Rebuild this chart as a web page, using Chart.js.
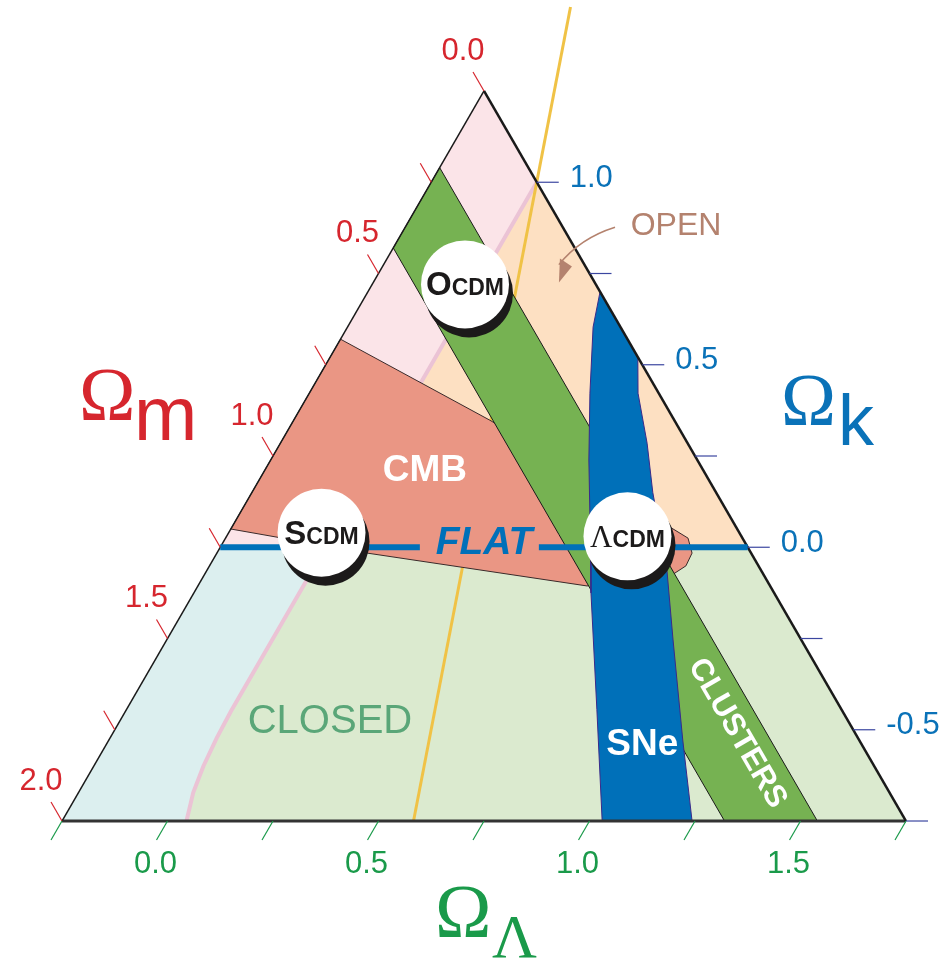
<!DOCTYPE html>
<html>
<head>
<meta charset="utf-8">
<script src="https://cdn.jsdelivr.net/npm/chart.js@4.4.0/dist/chart.umd.min.js"></script>
<style>
  html, body { margin: 0; padding: 0; background: #fff; }
  #wrap { width: 940px; height: 960px; }
</style>
</head>
<body>
<div id="wrap"><canvas id="cosmicTriangle" width="940" height="960"></canvas></div>
<script>
// Cosmic triangle: Omega_m + Omega_Lambda + Omega_k = 1
// every shape below is a list of (Omega_m, Omega_Lambda) pairs

// corners: apex, bottom-left, bottom-right
const cornerM = [0, 2, 0];
const cornerL = [-0.25, -0.25, 1.75];

// pink boundary curve (open / closed backgrounds split along it)
const edgeM = [0, 1, 1.45, 1.52, 1.59, 1.65, 1.705];
const edgeL = [0, 0, 0, 0.003, 0.01, 0.022, 0.045];

// yellow line: accelerating / decelerating
const accelM = [-0.32, 1.167];
const accelL = [-0.16, 0.583];

// CMB constraint
const cmbM = [0.68, 0.437, 0.149, 0.129, 0.14, 0.172, 0.214, 0.434, 0.91, 1.2];
const cmbL = [-0.25, 0.215, 0.804, 0.846, 0.876, 0.879, 0.86, 0.672, 0.106, -0.25];

// cluster band
const clusterM = [0.21, 0.43, 0.43, 0.21];
const clusterL = [-0.25, -0.25, 1.32, 1.54];

// supernovae
const sneM = [0, 0.065, 0.163, 0.257, 0.346, 0.434, 0.58, 0.72, 0.507, 0.418, 0.304, 0.223, 0.15, 0.096, 0.049, 0];
const sneL = [0.30, 0.332, 0.415, 0.504, 0.599, 0.691, 0.865, 1.03, 1.243, 1.11, 0.95, 0.84, 0.70, 0.619, 0.529, 0.479];

// flat line, split where the word FLAT sits
const flatLeftM = [1.25, 0.777];
const flatLeftL = [-0.25, 0.223];
const flatRightM = [0.495, 0];
const flatRightL = [0.505, 1];

// models
const modelFirst = ['O', 'S', 'Λ'];
const modelM = [0.31, 0.99, 0.27];
const modelL = [-0.03, -0.03, 0.70];

// arrow from OPEN into the open region
const arrowM = [-0.124, -0.026, 0.085];
const arrowL = [0.247, 0.179, 0.19];

// ticks
const mTicks = [0, 0.25, 0.5, 0.75, 1, 1.25, 1.5, 1.75, 2];
const kTicks = [1, 0.75, 0.5, 0.25, 0, -0.25, -0.5, -0.75];
const lTicks = [-0.25, 0, 0.25, 0.5, 0.75, 1, 1.25, 1.5, 1.75];
const mLabelVals = [0, 0.5, 1, 1.5, 2];
const mLabels = ['0.0', '0.5', '1.0', '1.5', '2.0'];
const kLabelVals = [1, 0.5, 0, -0.5];
const kLabels = ['1.0', '0.5', '0.0', '-0.5'];
const lLabelVals = [0, 0.5, 1, 1.5];
const lLabels = ['0.0', '0.5', '1.0', '1.5'];

const RED = '#d6262e';
const BLUE = '#0a72b8';
const GREEN = '#1a9a4a';
const SANS = '"Liberation Sans", Arial, sans-serif';
const SERIF = '"Liberation Serif", "Times New Roman", serif';

// (Omega_m, Omega_Lambda) -> chart coords: x = Omega_L - Omega_m, y = Omega_k
function pts(mArr, lArr) {
  return mArr.map((m, i) => ({ x: lArr[i] - m, y: 1 - m - lArr[i] }));
}

function area(label, mArr, lArr, color, order, border) {
  const data = pts(mArr, lArr);
  data.push(data[0]);
  return {
    label, data, order,
    fill: 'shape',
    backgroundColor: color,
    borderColor: border || 'rgba(0,0,0,0)',
    borderWidth: border ? 1 : 0,
    pointRadius: 0,
    tension: 0
  };
}

function line(label, mArr, lArr, color, width, order) {
  return {
    label, order,
    data: pts(mArr, lArr),
    fill: false,
    borderColor: color,
    borderWidth: width,
    pointRadius: 0,
    tension: 0,
    borderCapStyle: 'butt'
  };
}

// background pieces built from the corners and the pink curve
const lowEdgeM = edgeM.slice(2), lowEdgeL = edgeL.slice(2);
const pinkBg = area('pinkBg', [cornerM[0], 0, 1, 1.25], [cornerL[0], 0, 0, -0.25], '#fbe4e8', 30);
const peachBg = area('peachBg', [0, 0, 1], [0, 1, 0], '#fde0c2', 30);
const blueBg = area('blueBg', [1.25, 1].concat(lowEdgeM, [cornerM[1]]),
  [-0.25, 0].concat(lowEdgeL, [cornerL[1]]), '#dcefef', 30);
const greenBg = area('greenBg', [1, 0, cornerM[2]].concat(lowEdgeM.slice().reverse()),
  [0, 1, cornerL[2]].concat(lowEdgeL.slice().reverse()), '#dbeacf', 30);

const datasets = [
  pinkBg, peachBg, blueBg, greenBg,
  line('edge', edgeM, edgeL, '#ebc3d5', 4, 25),
  line('accel', accelM, accelL, '#f0c246', 3, 24),
  area('CMB', cmbM, cmbL, '#ea9684', 20, '#3a2a2a'),
  area('Clusters', clusterM, clusterL, '#76b252', 19, '#1a1a1a'),
  area('SNe', sneM, sneL, '#0070b9', 18, '#3a2a8a'),
  line('leftSide', [cornerM[0], cornerM[1]], [cornerL[0], cornerL[1]], '#1a1a1a', 1.5, 15),
  line('rightSide', [cornerM[0], cornerM[2]], [cornerL[0], cornerL[2]], '#1a1a1a', 2.5, 15),
  line('bottomSide', [cornerM[1], cornerM[2]], [cornerL[1], cornerL[2]], '#333333', 3, 15),
  line('flatL', flatLeftM, flatLeftL, '#0070b9', 6, 10),
  line('flatR', flatRightM, flatRightL, '#0070b9', 6, 10)
];

const decorations = {
  id: 'decorations',
  afterDatasetsDraw(chart) {
    const ctx = chart.ctx;
    const sx = chart.scales.x, sy = chart.scales.y;
    const P = (m, l) => [sx.getPixelForValue(l - m), sy.getPixelForValue(1 - m - l)];
    ctx.save();

    // left side: Omega_m
    ctx.strokeStyle = RED; ctx.lineWidth = 1.2;
    mTicks.forEach(m => {
      const [x, y] = P(m, cornerL[0]);
      ctx.beginPath(); ctx.moveTo(x, y); ctx.lineTo(x - 11, y - 19); ctx.stroke();
    });
    ctx.fillStyle = RED; ctx.font = '31px ' + SANS;
    ctx.textAlign = 'center'; ctx.textBaseline = 'middle';
    mLabelVals.forEach((m, i) => {
      const [x, y] = P(m, cornerL[0]);
      ctx.fillText(mLabels[i], x - 21, y - 40);
    });

    // right side: Omega_k
    ctx.strokeStyle = '#3b46a0'; ctx.lineWidth = 1.2;
    kTicks.forEach(k => {
      const [x, y] = P(0, 1 - k);
      ctx.beginPath(); ctx.moveTo(x, y); ctx.lineTo(x + 22, y); ctx.stroke();
    });
    ctx.fillStyle = BLUE; ctx.textAlign = 'left';
    kLabelVals.forEach((k, i) => {
      const [x, y] = P(0, 1 - k);
      ctx.fillText(kLabels[i], x + 33, y - 4);
    });

    // bottom: Omega_Lambda
    ctx.strokeStyle = GREEN; ctx.lineWidth = 1.2;
    lTicks.forEach(l => {
      const [x, y] = P(cornerL[2] - l, l);
      ctx.beginPath(); ctx.moveTo(x, y); ctx.lineTo(x - 11, y + 19); ctx.stroke();
    });
    ctx.fillStyle = GREEN; ctx.textAlign = 'center';
    lLabelVals.forEach((l, i) => {
      const [x, y] = P(cornerL[2] - l, l);
      ctx.fillText(lLabels[i], x - 12, y + 43);
    });

    // arrow
    const a = arrowM.map((m, i) => P(m, arrowL[i]));
    ctx.strokeStyle = '#b4826e'; ctx.fillStyle = '#b4826e'; ctx.lineWidth = 1.6;
    ctx.beginPath(); ctx.moveTo(a[0][0], a[0][1]);
    ctx.quadraticCurveTo(a[1][0], a[1][1], a[2][0], a[2][1] - 18);
    ctx.stroke();
    const tip = a[2];
    ctx.beginPath();
    ctx.moveTo(tip[0], tip[1]);
    ctx.lineTo(tip[0] + 1, tip[1] - 24);
    ctx.lineTo(tip[0] + 13, tip[1] - 16);
    ctx.closePath(); ctx.fill();

    // model circles
    modelFirst.forEach((first, i) => {
      const [cx, cy] = P(modelM[i], modelL[i]);
      ctx.fillStyle = '#1c1a1a';
      ctx.beginPath(); ctx.arc(cx + 4, cy + 9, 44, 0, Math.PI * 2); ctx.fill();
      ctx.fillStyle = '#ffffff';
      ctx.beginPath(); ctx.arc(cx, cy, 44, 0, Math.PI * 2); ctx.fill();
      const bigFont = first === 'Λ' ? '31px ' + SERIF : 'bold 33px ' + SANS;
      const smallFont = 'bold 23px ' + SANS;
      ctx.font = bigFont; const w1 = ctx.measureText(first).width;
      ctx.font = smallFont; const w2 = ctx.measureText('CDM').width;
      const x0 = cx - (w1 + w2) / 2;
      ctx.fillStyle = '#1c1a1a'; ctx.textAlign = 'left'; ctx.textBaseline = 'alphabetic';
      ctx.font = bigFont; ctx.fillText(first, x0, cy + 11);
      ctx.font = smallFont; ctx.fillText('CDM', x0 + w1, cy + 11);
    });

    // region labels
    ctx.textAlign = 'center'; ctx.textBaseline = 'middle';
    const put = (text, m, l, font, color, angle) => {
      const [x, y] = P(m, l);
      ctx.save(); ctx.translate(x, y); if (angle) ctx.rotate(angle);
      ctx.font = font; ctx.fillStyle = color; ctx.fillText(text, 0, 0);
      ctx.restore();
    };
    put('CMB', 0.66, 0.13, 'bold 37px ' + SANS, '#ffffff');
    put('FLAT', 0.62, 0.37, 'italic bold 39px ' + SANS, '#0070b9');
    put('OPEN', -0.27, 0.39, '32px ' + SANS, '#b4826e');
    put('CLOSED', 1.23, 0.25, '40px ' + SANS, '#5aa678');
    put('SNe', 0.52, 1.02, 'bold 37px ' + SANS, '#ffffff');
    put('CLUSTERS', 0.28, 1.23, 'bold 31px ' + SANS, '#ffffff', Math.PI / 3);

    // axis titles
    ctx.textAlign = 'left'; ctx.textBaseline = 'alphabetic';
    ctx.fillStyle = RED;
    ctx.font = '76px ' + SERIF; ctx.fillText('Ω', 79, 420);
    ctx.font = '76px ' + SANS; ctx.fillText('m', 134, 440);
    ctx.fillStyle = BLUE;
    ctx.font = '74px ' + SERIF; ctx.fillText('Ω', 781, 425);
    ctx.font = '72px ' + SANS; ctx.fillText('k', 838, 445);
    ctx.fillStyle = GREEN;
    ctx.font = '76px ' + SERIF; ctx.fillText('Ω', 435, 937);
    ctx.font = '62px ' + SERIF; ctx.fillText('Λ', 492, 957);

    ctx.restore();
  }
};

new Chart(document.getElementById('cosmicTriangle'), {
  type: 'line',
  data: { datasets },
  options: {
    responsive: false,
    animation: false,
    events: [],
    layout: { padding: 0 },
    plugins: { legend: { display: false }, tooltip: { enabled: false } },
    scales: {
      x: { type: 'linear', min: -2.5438, max: 1.9111, display: false },
      y: { type: 'linear', min: -1.1308, max: 1.4993, display: false }
    }
  },
  plugins: [decorations]
});
</script>
</body>
</html>
